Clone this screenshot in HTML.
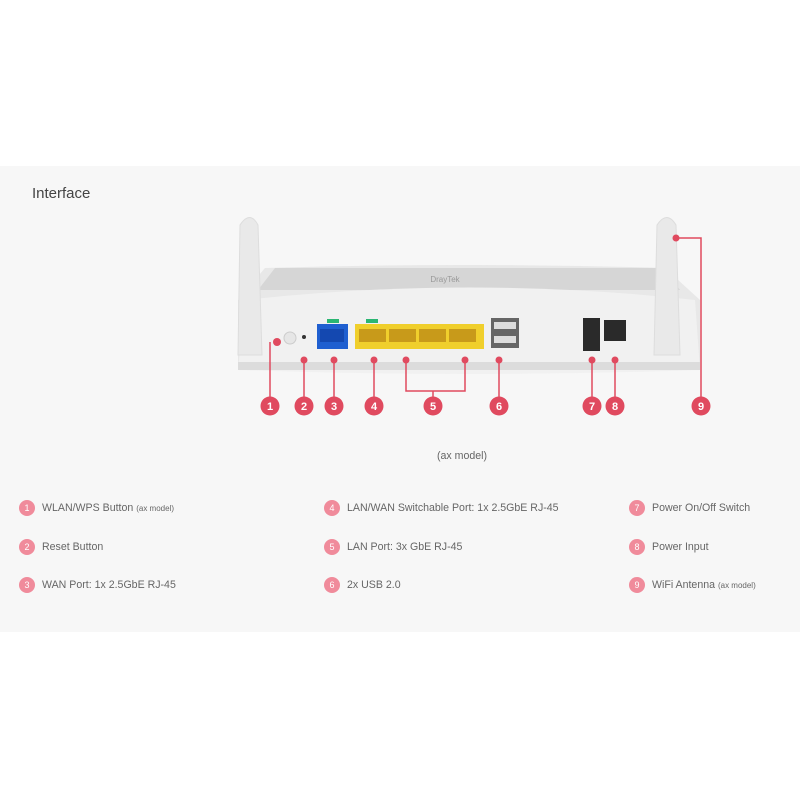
<!DOCTYPE html>
<html><head><meta charset="utf-8"><style>
body{margin:0;width:800px;height:800px;background:#fff;font-family:"Liberation Sans",sans-serif;position:relative;overflow:hidden}
.panel{position:absolute;left:0;top:166px;width:800px;height:466px;background:#f7f7f7}
.t{position:absolute;font-size:10.6px;color:#666;white-space:nowrap}
.t small{font-size:8px}
.c{position:absolute;width:16px;height:16px;border-radius:50%;background:#f08b9b;color:#fff;font-size:9px;text-align:center;line-height:16px}
</style></head><body>
<div class="panel"></div>
<div style="position:absolute;left:32px;top:185px;font-size:15px;color:#444">Interface</div>
<svg style="position:absolute;left:0;top:0" width="800" height="800">
<path d="M265 268 Q470 262 665 268 L700 300 L700 368 Q470 375 238 368 L238 300 Z" fill="#e8e8e8"/>
<path d="M275 268 L665 268 L680 290 L258 290 Z" fill="#d6d6d6"/>
<path d="M245 300 Q470 275 695 300 L700 370 Q470 378 238 370 Z" fill="#f1f1f1"/>
<rect x="238" y="362" width="462" height="8" fill="#dcdcdc"/>
<text x="445" y="282" font-size="8" fill="#999" text-anchor="middle">DrayTek</text>
<path d="M240 225 Q250 210 258 225 L262 355 L238 355 Z" fill="#e9e9e9" stroke="#ddd"/>
<path d="M657 225 Q667 210 676 225 L680 355 L654 355 Z" fill="#e9e9e9" stroke="#ddd"/>
<circle cx="290" cy="338" r="6" fill="#e6e6e6" stroke="#ccc"/>
<circle cx="304" cy="337" r="2" fill="#333"/>
<rect x="327" y="319" width="12" height="4" fill="#2bb673"/>
<rect x="366" y="319" width="12" height="4" fill="#2bb673"/>
<rect x="317" y="324" width="31" height="25" fill="#1f5fd0"/>
<rect x="320" y="329" width="24" height="13" fill="#1448b0"/>
<rect x="355" y="324" width="129" height="25" fill="#f0cf2c"/>
<rect x="359" y="329" width="27" height="13" fill="#c89a1a"/><rect x="389" y="329" width="27" height="13" fill="#c89a1a"/>
<rect x="419" y="329" width="27" height="13" fill="#c89a1a"/><rect x="449" y="329" width="27" height="13" fill="#c89a1a"/>
<rect x="491" y="318" width="28" height="30" fill="#666"/>
<rect x="494" y="322" width="22" height="7" fill="#ddd"/><rect x="494" y="336" width="22" height="7" fill="#ddd"/>
<rect x="583" y="318" width="17" height="33" fill="#2a2a2a"/>
<rect x="604" y="320" width="22" height="21" fill="#2a2a2a"/>
<g stroke="#e04a5f" stroke-width="1.5" fill="none">
<line x1="270" y1="342" x2="270" y2="400"/>
<line x1="304" y1="360" x2="304" y2="400"/>
<line x1="334" y1="360" x2="334" y2="400"/>
<line x1="374" y1="360" x2="374" y2="400"/>
<polyline points="406,360 406,391 465,391 465,360"/>
<line x1="433" y1="391" x2="433" y2="400"/>
<line x1="499" y1="360" x2="499" y2="400"/>
<line x1="592" y1="360" x2="592" y2="400"/>
<line x1="615" y1="360" x2="615" y2="400"/>
<polyline points="676,238 701,238 701,400"/>
</g>
<g fill="#e04a5f">
<circle cx="277" cy="342" r="4"/><circle cx="304" cy="360" r="3.5"/><circle cx="334" cy="360" r="3.5"/>
<circle cx="374" cy="360" r="3.5"/><circle cx="406" cy="360" r="3.5"/><circle cx="465" cy="360" r="3.5"/>
<circle cx="499" cy="360" r="3.5"/><circle cx="592" cy="360" r="3.5"/><circle cx="615" cy="360" r="3.5"/>
<circle cx="676" cy="238" r="3.5"/>
</g>
<g fill="#e04a5f">
<circle cx="270" cy="406" r="9.5"/><circle cx="304" cy="406" r="9.5"/><circle cx="334" cy="406" r="9.5"/>
<circle cx="374" cy="406" r="9.5"/><circle cx="433" cy="406" r="9.5"/><circle cx="499" cy="406" r="9.5"/>
<circle cx="592" cy="406" r="9.5"/><circle cx="615" cy="406" r="9.5"/><circle cx="701" cy="406" r="9.5"/>
</g>
<g fill="#fff" font-size="11" font-weight="bold" text-anchor="middle" font-family="Liberation Sans">
<text x="270" y="410">1</text><text x="304" y="410">2</text><text x="334" y="410">3</text>
<text x="374" y="410">4</text><text x="433" y="410">5</text><text x="499" y="410">6</text>
<text x="592" y="410">7</text><text x="615" y="410">8</text><text x="701" y="410">9</text>
</g>
</svg>
<div class="t" style="left:437px;top:450px">(ax model)</div>
<div class="c" style="left:19px;top:500px">1</div><div class="t" style="left:42px;top:502px">WLAN/WPS Button <small>(ax model)</small></div>
<div class="c" style="left:19px;top:539px">2</div><div class="t" style="left:42px;top:541px">Reset Button</div>
<div class="c" style="left:19px;top:577px">3</div><div class="t" style="left:42px;top:579px">WAN Port: 1x 2.5GbE RJ-45</div>
<div class="c" style="left:324px;top:500px">4</div><div class="t" style="left:347px;top:502px">LAN/WAN Switchable Port: 1x 2.5GbE RJ-45</div>
<div class="c" style="left:324px;top:539px">5</div><div class="t" style="left:347px;top:541px">LAN Port: 3x GbE RJ-45</div>
<div class="c" style="left:324px;top:577px">6</div><div class="t" style="left:347px;top:579px">2x USB 2.0</div>
<div class="c" style="left:629px;top:500px">7</div><div class="t" style="left:652px;top:502px">Power On/Off Switch</div>
<div class="c" style="left:629px;top:539px">8</div><div class="t" style="left:652px;top:541px">Power Input</div>
<div class="c" style="left:629px;top:577px">9</div><div class="t" style="left:652px;top:579px">WiFi Antenna <small>(ax model)</small></div>
</body></html>
